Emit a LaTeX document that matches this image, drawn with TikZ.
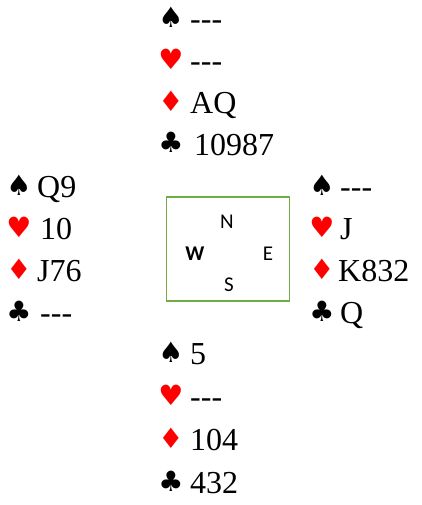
\documentclass[tikz,border=0pt]{standalone}
\usepackage{fontspec}
\setmainfont{Liberation Serif}
\newfontfamily\suitfont{DejaVu Sans}
\newfontfamily\boxfont{Carlito}
\definecolor{boxgreen}{RGB}{112,173,71}
\newcommand{\nocards}{{-}{-}{-}}
\tikzset{
  suit/.style={inner sep=0pt, font=\suitfont\fontsize{28}{28}\selectfont},
  redsuit/.style={suit, text=red},
  cards/.style={inner sep=0pt, anchor=base west, font=\fontsize{32}{32}\selectfont},
  compass/.style={inner sep=0pt, font=\boxfont\fontsize{21}{21}\selectfont},
}
\begin{document}
\begin{tikzpicture}[x=1pt,y=-1pt]
\useasboundingbox (0,0) rectangle (422,505);
% North
\node[suit,anchor=base] (ns) at (171,28) {♠};
\node[cards] (nst) at (190,30) {\nocards};
\node[redsuit,anchor=base] (nh) at (171,70) {♥};
\node[cards] (nht) at (190,72) {\nocards};
\node[redsuit,anchor=base] (nd) at (171,112) {♦};
\node[cards] (ndt) at (190,114) {AQ};
\node[suit,anchor=base] (nc) at (171,153) {♣};
\node[cards] (nct) at (194,155) {10987};
% West
\node[suit,anchor=base] (ws) at (19,195) {♠};
\node[cards] (wst) at (37,197) {Q9};
\node[redsuit,anchor=base] (wh) at (19,237) {♥};
\node[cards] (wht) at (40,239) {10};
\node[redsuit,anchor=base] (wd) at (19,279) {♦};
\node[cards] (wdt) at (37,281) {J76};
\node[suit,anchor=base] (wc) at (19,321) {♣};
\node[cards] (wct) at (40,323) {\nocards};
% East
\node[suit,anchor=base] (es) at (322,195) {♠};
\node[cards] (est) at (340,197) {\nocards};
\node[redsuit,anchor=base] (eh) at (322,237) {♥};
\node[cards] (eht) at (340,239) {J};
\node[redsuit,anchor=base] (ed) at (322,279) {♦};
\node[cards] (edt) at (338,281) {K832};
\node[suit,anchor=base] (ec) at (322,321) {♣};
\node[cards] (ect) at (340,323) {Q};
% South
\node[suit,anchor=base] (ss) at (171,362) {♠};
\node[cards] (sst) at (190,364) {5};
\node[redsuit,anchor=base] (sh) at (171,405) {♥};
\node[cards] (sht) at (190,407) {\nocards};
\node[redsuit,anchor=base] (sd) at (171,448) {♦};
\node[cards] (sdt) at (190,450) {104};
\node[suit,anchor=base] (sc) at (171,491) {♣};
\node[cards] (sct) at (190,493) {432};
% Compass box
\node[draw=boxgreen, line width=1.8pt, minimum width=123pt, minimum height=104pt, inner sep=0pt] (box) at (228,249) {};
\node[compass] (cn) at (227,222) {N};
\node[compass] (cw) at (195,254) {\bfseries W};
\node[compass] (ce) at (268,254) {E};
\node[compass] (cs) at (229,285) {S};
\end{tikzpicture}
\end{document}
